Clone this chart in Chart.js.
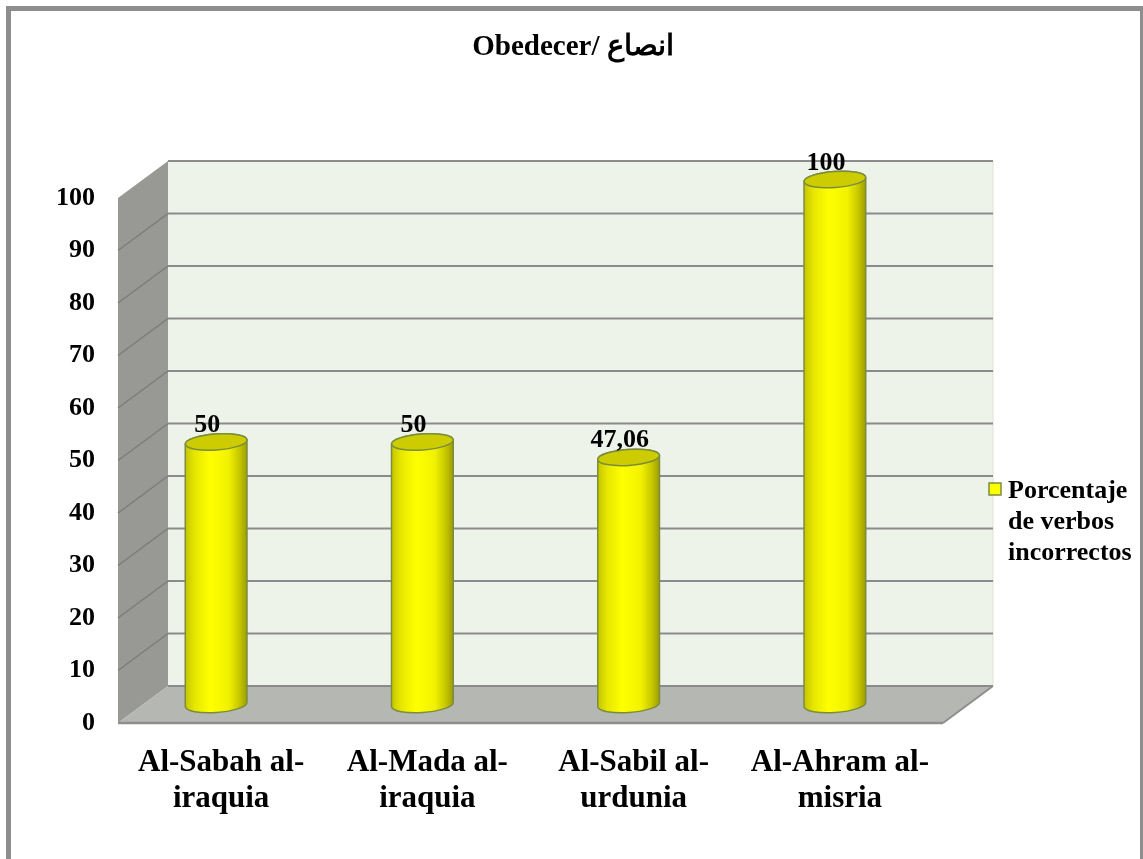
<!DOCTYPE html>
<html lang="es">
<head>
<meta charset="utf-8">
<title>Obedecer/ انصاع</title>
<script src="https://cdn.jsdelivr.net/npm/chart.js@4.4.1/dist/chart.umd.min.js"></script>
<style>
    html, body { margin: 0; padding: 0; background: #fff; overflow: hidden; }
    #caja { position: relative; width: 1143px; height: 859px; }
    #marco {
        position: absolute; left: 6px; top: 6px; width: 1129px; height: 900px;
        border: 5px solid #8e8e8e; pointer-events: none;
    }
</style>
</head>
<body>
<div id="caja">
    <canvas id="grafico"></canvas>
    <div id="marco"></div>
</div>
<script>
// --- DADOS ---
const titulo = 'Obedecer/ انصاع';
const categorias = [
    ['Al-Sabah al-', 'iraquia'],
    ['Al-Mada al-', 'iraquia'],
    ['Al-Sabil al-', 'urdunia'],
    ['Al-Ahram al-', 'misria']
];
const valores = [50, 50, 47.06, 100];
const marcasY = [0, 10, 20, 30, 40, 50, 60, 70, 80, 90, 100];
const nombreSerie = ['Porcentaje', 'de verbos', 'incorrectos'];

// profundidade do efeito 3D (frente -> fundo)
const DX = 50, DY = -37;
const fonte = "'Liberation Serif', 'Times New Roman', serif";

function poligono(ctx, pts, cor) {
    ctx.beginPath();
    ctx.moveTo(pts[0][0], pts[0][1]);
    pts.slice(1).forEach(p => ctx.lineTo(p[0], p[1]));
    ctx.closePath();
    ctx.fillStyle = cor;
    ctx.fill();
}

function linha(ctx, x1, y1, x2, y2, cor, w) {
    ctx.beginPath();
    ctx.moveTo(x1, y1);
    ctx.lineTo(x2, y2);
    ctx.strokeStyle = cor;
    ctx.lineWidth = w;
    ctx.stroke();
}

// paredes, chão e linhas de grade
const paredes3d = {
    id: 'paredes3d',
    beforeDatasetsDraw(chart) {
        const { ctx, chartArea: a, scales: { y } } = chart;
        ctx.save();
        ctx.fillStyle = '#eef3ea';
        ctx.fillRect(a.left + DX, a.top + DY, a.width, a.height);
        poligono(ctx, [[a.left, a.top], [a.left + DX, a.top + DY], [a.left + DX, a.bottom + DY], [a.left, a.bottom]], '#989995');
        poligono(ctx, [[a.left, a.bottom], [a.right, a.bottom], [a.right + DX, a.bottom + DY], [a.left + DX, a.bottom + DY]], '#b5b7b2');

        linha(ctx, a.right + DX, a.top + DY, a.right + DX, a.bottom + DY, '#dde1da', 1);
        marcasY.forEach(v => {
            const py = y.getPixelForValue(v);
            linha(ctx, a.left + DX, py + DY, a.right + DX, py + DY, '#8b8b8b', 2);
            if (v > 0 && v < 100) linha(ctx, a.left, py, a.left + DX, py + DY, '#7c7d79', 1.5);
        });
        linha(ctx, a.left, a.bottom, a.right, a.bottom, '#8e8f8b', 2.5);
        linha(ctx, a.right, a.bottom, a.right + DX, a.bottom + DY, '#8e8f8b', 2);
        ctx.restore();
    },
    afterDatasetsDraw(chart) {
        const { ctx } = chart;
        const meta = chart.getDatasetMeta(0);
        ctx.save();
        meta.data.forEach((bar, i) => {
            const r = bar.width / 2, ry = 8, rot = -0.07;
            const cx = bar.x - 5;
            const ty = bar.y + DY / 2;
            const by = bar.base + DY / 2;

            const grad = ctx.createLinearGradient(cx - r, 0, cx + r, 0);
            grad.addColorStop(0, '#c4c400');
            grad.addColorStop(0.15, '#e6e600');
            grad.addColorStop(0.4, '#ffff00');
            grad.addColorStop(0.7, '#f2f200');
            grad.addColorStop(0.88, '#c6c600');
            grad.addColorStop(1, '#9c9c00');

            // corpo
            ctx.beginPath();
            ctx.ellipse(cx, by, r, ry, rot, 0, Math.PI);
            ctx.ellipse(cx, ty, r, ry, rot, Math.PI, Math.PI * 2);
            ctx.closePath();
            ctx.fillStyle = grad;
            ctx.fill();
            ctx.strokeStyle = '#7b8d3c';
            ctx.lineWidth = 1.5;
            ctx.stroke();

            // tampa
            ctx.beginPath();
            ctx.ellipse(cx, ty, r, ry, rot, 0, Math.PI * 2);
            ctx.fillStyle = '#cccc00';
            ctx.fill();
            ctx.stroke();

            // rótulo do valor
            ctx.fillStyle = '#000';
            ctx.font = 'bold 26px ' + fonte;
            ctx.textAlign = 'center';
            ctx.textBaseline = 'alphabetic';
            ctx.fillText(String(valores[i]).replace('.', ','), cx - 9, ty - 10);
        });
        ctx.restore();
    },
    afterDraw(chart) {
        const { ctx } = chart;
        ctx.save();
        // título
        ctx.fillStyle = '#000';
        ctx.font = 'bold 29px ' + fonte;
        ctx.textAlign = 'center';
        ctx.textBaseline = 'middle';
        ctx.fillText(titulo, 573, 48);

        // legenda
        ctx.fillStyle = '#ffff00';
        ctx.fillRect(989, 483, 12, 12);
        ctx.strokeStyle = '#7b8d3c';
        ctx.lineWidth = 1.5;
        ctx.strokeRect(989, 483, 12, 12);
        ctx.fillStyle = '#000';
        ctx.font = 'bold 26px ' + fonte;
        ctx.textAlign = 'left';
        ctx.textBaseline = 'alphabetic';
        nombreSerie.forEach((t, k) => ctx.fillText(t, 1008, 498 + k * 31));
        ctx.restore();
    }
};

document.addEventListener('DOMContentLoaded', () => {
    const ctx = document.getElementById('grafico');
    new Chart(ctx, {
        type: 'bar',
        data: {
            labels: categorias,
            datasets: [{
                label: nombreSerie.join(' '),
                data: valores,
                backgroundColor: 'rgba(0,0,0,0)',
                borderWidth: 0,
                categoryPercentage: 1,
                barPercentage: 0.3
            }]
        },
        options: {
            responsive: true,
            maintainAspectRatio: false,
            devicePixelRatio: 1,
            animation: false,
            layout: { padding: { top: 198, right: 200, bottom: 0, left: 0 } },
            plugins: {
                legend: { display: false },
                tooltip: { enabled: false }
            },
            scales: {
                x: {
                    grid: { display: false, drawTicks: false },
                    border: { display: false },
                    ticks: {
                        color: '#000',
                        padding: 22,
                        maxRotation: 0,
                        autoSkip: false,
                        font: { family: fonte, size: 31, weight: 'bold', lineHeight: 1.16 }
                    },
                    afterFit: (s) => { s.height = 136; }
                },
                y: {
                    min: 0,
                    max: 100,
                    grid: { display: false, drawTicks: false },
                    border: { display: false },
                    afterBuildTicks: (s) => { s.ticks = marcasY.map(v => ({ value: v })); },
                    ticks: {
                        color: '#000',
                        padding: 23,
                        font: { family: fonte, size: 26, weight: 'bold' }
                    },
                    afterFit: (s) => { s.width = 118; }
                }
            }
        },
        plugins: [paredes3d]
    });
});
</script>
</body>
</html>
